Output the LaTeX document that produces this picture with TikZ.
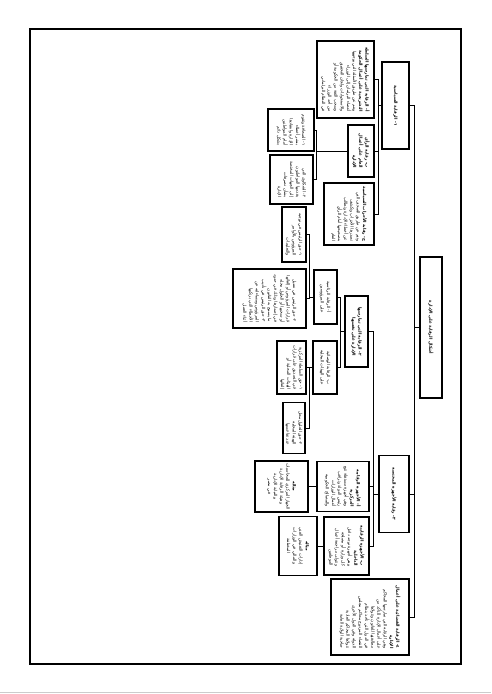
\documentclass[tikz,border=0pt]{standalone}
\usepackage{fontspec}
\newfontfamily\arabicfont[Script=Arabic]{DejaVu Sans}
\TeXXeTstate=1
\newcommand{\rl}[1]{{\beginR #1\endR}}
\newcommand{\rb}[1]{{\bfseries\beginR #1\endR}}
\tikzset{
  box/.style={draw, line width=1.2pt, rotate=-90, align=right, inner sep=1.5pt,
    font=\arabicfont\fontsize{4.2}{6.2}\selectfont},
  dims/.style 2 args={minimum width=#2pt, minimum height=#1pt},
  link/.style={line width=1pt}
}
\begin{document}
\begin{tikzpicture}[x=1pt,y=-1pt]
  \useasboundingbox (0,0) rectangle (491,694);
  \draw[line width=1.3pt] (30,29) rectangle (461,664);
  \draw[gray!40, line width=1.5pt] (0,692.5) -- (491,692.5);

  \node[box, dims={22}{141}] (root) at (431,327.5) {\rb{أشكال الرقابة على الإدارة}};

  \node[box, dims={27}{87}] (polit) at (395.5,105.5) {\rb{١- الرقابة السياسية}};
  \node[box, dims={57}{77}] (parl) at (345.5,79.5) {\rb{أ- الرقابة التي تمارسها السلطة}\\
    \rb{التشريعية على أعمال الحكومة}\\ \rl{وتتم عن طريق الأسئلة التي يوجهها}\\
    \rl{أعضاء البرلمان إلى الوزراء}\\ \rl{والاستجوابات ولجان التحقيق}\\
    \rl{وسحب الثقة من الحكومة أو}\\ \rl{من أحد الوزراء}\\ \rl{في النظام البرلماني}};
  \node[box, dims={26}{52}] (opin) at (361,151) {\rb{ب- رقابة الرأي}\\ \rb{العام على أعمال}\\ \rb{الإدارة}};
  \node[box, dims={50}{62}] (party) at (349,214) {\rb{ج- رقابة الأحزاب السياسية}\\
    \rl{وتتم عن طريق الصحف التي}\\ \rl{تصدرها الأحزاب وتكشف}\\
    \rl{عن أخطاء الإدارة وتطالب}\\ \rl{بتصحيحها أمام الرأي}\\ \rl{العام}};
  \node[box, dims={46}{42}] (press) at (291,130) {\rl{١- الصحافة وتقوم}\\ \rl{بنشر أخطاء}\\
    \rl{الإدارة وانتقادها}\\ \rl{أمام المواطنين}\\ \rl{بشكل دائم}};
  \node[box, dims={43}{49}] (compl) at (291.5,179.5) {\rl{٢- الشكاوى التي}\\ \rl{يقدمها المواطنون}\\
    \rl{إلى الجهات المختصة}\\ \rl{بشأن تصرفات}\\ \rl{الإدارة}};

  \node[box, dims={23}{71}] (self) at (356.5,331.5) {\rb{٢- الرقابة التي تمارسها}\\ \rb{الإدارة على نفسها}};
  \node[box, dims={23}{54}] (pres) at (325.5,297) {\rl{أ- الرقابة الرئاسية}\\ \rl{على المرؤوسين}};
  \node[box, dims={24}{55}] (presA) at (294,234.5) {\rl{١- حق الرئيس في توجيه}\\
    \rl{المرؤوس بالأوامر}\\ \rl{والتعليمات}};
  \node[box, dims={73}{59}] (presB) at (269.5,298.5) {\rl{٢- حق الرئيس في تعديل}\\
    \rl{قرارات المرؤوس أو إلغائها}\\ \rl{أو سحبها أو الحلول محله}\\
    \rl{في إصدارها وذلك في حدود}\\ \rl{ما يسمح به القانون}\\
    \rl{٣- حق الرئيس في تأديب}\\ \rl{المرؤوس ومساءلته عن}\\
    \rl{الأخطاء التي يرتكبها}\\ \rl{أثناء العمل}};
  \node[box, dims={24}{53}] (tutel) at (325,367.5) {\rl{ب- الرقابة الوصائية}\\ \rl{على الهيئات المحلية}};
  \node[box, dims={29}{53}] (tutA) at (291.5,367.5) {\rl{١- حق السلطة المركزية}\\
    \rl{في التصديق على قرارات}\\ \rl{الهيئات المحلية أو}\\ \rl{إلغائها}};
  \node[box, dims={22}{51}] (tutB) at (294,428) {\rl{٢- حق الحلول محل}\\
    \rl{الهيئة المحلية}\\ \rl{عند تقاعسها}};

  \node[box, dims={30}{77}] (organ) at (394,494) {\rb{٣- رقابة الأجهزة المختصة}};
  \node[box, dims={52}{50}] (central) at (343,486.5) {\rb{أ- الأجهزة الرقابية}\\ \rb{المركزية}\\
    \rl{وهي أجهزة مستقلة تتبع}\\ \rl{رئيس الدولة وتراقب}\\
    \rl{أعمال الوزارات}\\ \rl{والمصالح الحكومية}};
  \node[box, dims={45}{58}] (internal) at (346.5,546) {\rb{ب- الأجهزة الرقابية}\\ \rb{الداخلية}\\
    \rl{وهي أجهزة توجد داخل}\\ \rl{كل وزارة أو مصلحة}\\
    \rl{وتتولى مراجعة أعمال}\\ \rl{الموظفين}};
  \node[box, align=center, dims={53}{51}] (centralEx) at (281.5,486.5) {\rb{مثاله}\\
    \rl{الجهاز المركزي للمحاسبات}\\ \rl{وهيئة الرقابة الإدارية}\\
    \rl{والنيابة الإدارية}\\ \rl{في مصر}};
  \node[box, align=center, dims={38}{59}] (internalEx) at (298,546) {\rb{مثاله}\\
    \rl{إدارات التفتيش الفني}\\ \rl{والمالي في الوزارات}\\ \rl{المختلفة}};

  \node[box, dims={78}{76}] (judic) at (370,617) {\rb{٤- الرقابة القضائية على أعمال}\\
    \rb{الإدارة}\\ \rl{وهي الرقابة التي تمارسها المحاكم}\\
    \rl{على أعمال الإدارة للتأكد من}\\ \rl{مطابقتها للقانون وتتولاها}\\
    \rl{في الدول التي تأخذ بنظام}\\ \rl{القضاء المزدوج محاكم مجلس}\\
    \rl{الدولة وفي الدول الأخرى}\\ \rl{تتولاها المحاكم العادية}\\
    \rl{صاحبة الولاية العامة}};

  \coordinate (trunk) at (414,0);
  \coordinate (busPolit) at (378.3,0);
  \coordinate (busOpin) at (316.3,0);
  \coordinate (busOrgan) at (373.3,0);
  \coordinate (busSelf) at (340,0);
  \coordinate (busPres) at (309.3,0);

  \foreach \kid in {polit,organ,judic}
    \draw[link] (root.south) -- (root.south -| trunk) |- (\kid.north);
  \foreach \kid in {parl,opin,party}
    \draw[link] (polit.south) -- (polit.south -| busPolit) |- (\kid.north);
  \foreach \kid in {press,compl}
    \draw[link] (opin.south) -- (opin.south -| busOpin) |- (\kid.north);
  \foreach \kid in {self,central,internal}
    \draw[link] (organ.south) -- (organ.south -| busOrgan) |- (\kid.north);
  \foreach \kid in {pres,tutel}
    \draw[link] (self.south) -- (self.south -| busSelf) |- (\kid.north);
  \foreach \kid in {presA,presB}
    \draw[link] (pres.south) -- (pres.south -| busPres) |- (\kid.north);
  \foreach \kid in {tutA,tutB}
    \draw[link] (tutel.south) -- (tutel.south -| busPres) |- (\kid.north);
  \draw[link] (central.south) -- (centralEx.north);
  \draw[link] (internal.south) -- (internalEx.north);
\end{tikzpicture}
\end{document}
